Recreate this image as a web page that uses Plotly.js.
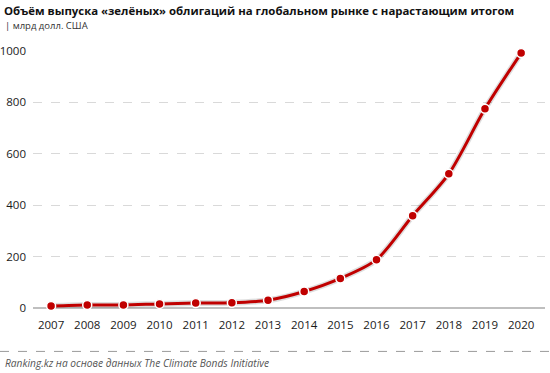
<!DOCTYPE html>
<html><head><meta charset="utf-8">
<script src="https://cdn.plot.ly/plotly-3.0.1.min.js"></script>
<style>html,body{margin:0;padding:0;background:#fff}#c{width:550px;height:373px}</style>
</head><body><div id="c"></div>
<script>
const years = [2007,2008,2009,2010,2011,2012,2013,2014,2015,2016,2017,2018,2019,2020];
const cumulative = [8,12,12,16,19,20,30,64,115,188,359,522,775,992];
const yTicks = [0,200,400,600,800,1000];
const titleText = "Объём выпуска «зелёных» облигаций на глобальном рынке с нарастающим итогом";
const unitText = "| млрд долл. США";
const sourceText = "Ranking.kz на основе данных The Climate Bonds Initiative";

const L = 33, R = 5, T = 51, B = 64.5, W = 550, H = 373;
const pw = W - L - R, ph = H - T - B;
const px = p => (p - L) / pw;
const py = p => (H - B - p) / ph;
const font = "Open Sans, Liberation Sans, sans-serif";

const data = [
  {x: years, y: cumulative, type: 'scatter', mode: 'lines', hoverinfo: 'skip',
   line: {color: 'rgba(0,0,0,0.13)', width: 6, shape: 'spline', smoothing: 0.8}, showlegend: false},
  {x: years, y: cumulative, type: 'scatter', mode: 'lines+markers', cliponaxis: false,
   line: {color: '#c00000', width: 3, shape: 'spline', smoothing: 0.8},
   marker: {color: '#c00000', size: 9, line: {color: '#ffffff', width: 1.5}}, showlegend: false}
];

const layout = {
  width: W, height: H,
  margin: {l: L, r: R, t: T, b: B, pad: 0},
  paper_bgcolor: '#fff', plot_bgcolor: '#fff',
  font: {family: font, color: '#222'},
  xaxis: {range: [2006.5, 2020.66], tickvals: years, ticktext: years.map(String),
          showgrid: false, zeroline: false, showline: false, ticks: '', ticklabelstandoff: 8,
          tickfont: {size: 11.5, color: '#1a1a1a'}, fixedrange: true},
  yaxis: {range: [0, 1000], tickvals: yTicks, ticktext: yTicks.map(String),
          showgrid: true, gridcolor: '#d9d9d9', griddash: 'dash', gridwidth: 1,
          zeroline: true, zerolinecolor: '#bfbfbf', zerolinewidth: 2,
          showline: false, ticks: '', ticklabelstandoff: 6,
          tickfont: {size: 11.5, color: '#1a1a1a'}, fixedrange: true},
  shapes: [
    {type: 'line', xref: 'paper', yref: 'paper', x0: px(0), x1: px(550), y0: py(352), y1: py(352),
     line: {color: '#9a9a9a', width: 1, dash: 'dash'}}
  ],
  annotations: [
    {text: '<b>' + titleText + '</b>', xref: 'paper', yref: 'paper', x: px(2), y: py(10),
     xanchor: 'left', yanchor: 'middle', showarrow: false, font: {size: 11.4, color: '#111', family: font}},
    {text: unitText, xref: 'paper', yref: 'paper', x: px(3), y: py(25),
     xanchor: 'left', yanchor: 'middle', showarrow: false, font: {size: 9.5, color: '#333', family: font}},
    {text: '<i>' + sourceText + '</i>', xref: 'paper', yref: 'paper', x: px(3), y: py(364),
     xanchor: 'left', yanchor: 'middle', showarrow: false, font: {size: 10.2, color: '#555', family: font}}
  ]
};
Plotly.newPlot('c', data, layout, {displayModeBar: false, staticPlot: true});
</script></body></html>
